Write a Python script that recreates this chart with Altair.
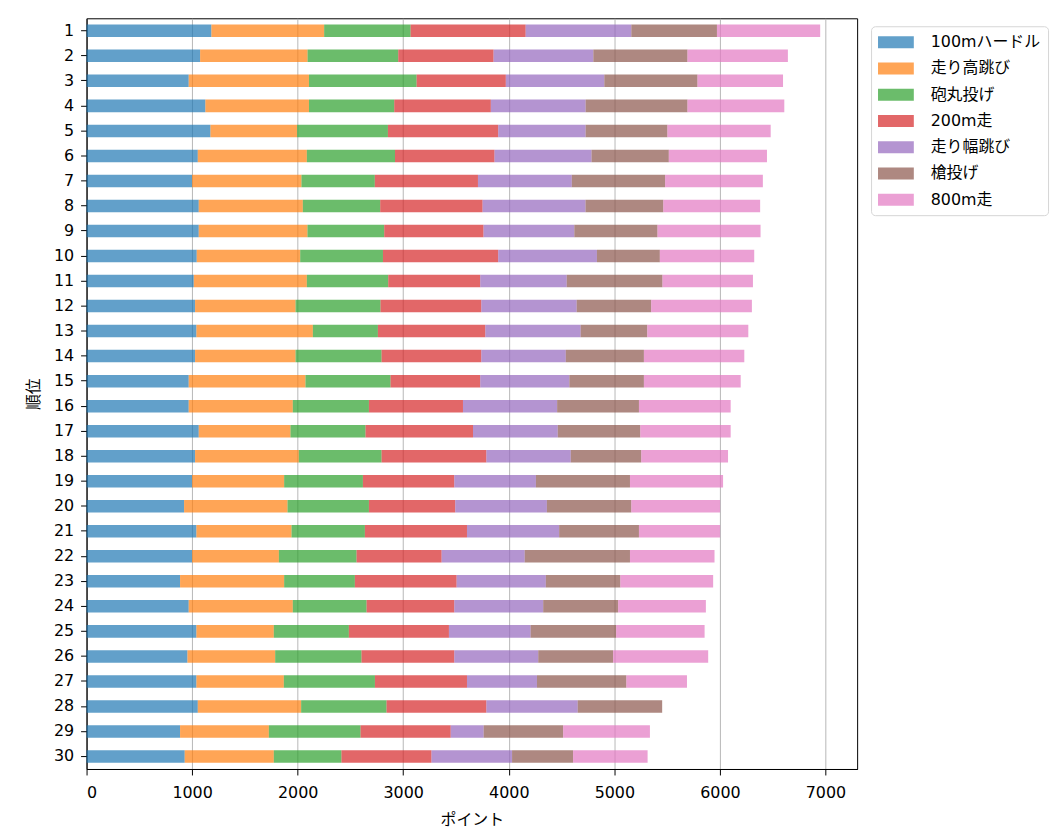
import altair as alt
import pandas as pd

ranks = list(range(1, 31))
events = ["100mハードル", "走り高跳び", "砲丸投げ", "200m走", "走り幅跳び", "槍投げ", "800m走"]
colors = ["#1f77b4", "#ff7f0e", "#2ca02c", "#d62728", "#9467bd", "#8c564b", "#e377c2"]

hurdles = [1183, 1076, 968, 1126, 1174, 1054, 1000, 1063, 1063, 1044,
           1016, 1028, 1041, 1028, 968, 968, 1063, 1028, 1000, 924,
           1041, 1000, 886, 968, 1041, 956, 1041, 1054, 886, 930]
high_jump = [1068, 1018, 1139, 981, 821, 1033, 1036, 986, 1030, 980,
             1071, 952, 1103, 952, 1106, 986, 869, 983, 872, 980,
             901, 822, 986, 986, 733, 831, 828, 979, 841, 844]
shot_put = [819, 859, 1020, 808, 860, 835, 695, 733, 727, 784,
            771, 805, 616, 815, 806, 721, 711, 784, 746, 771,
            695, 736, 670, 699, 711, 818, 863, 809, 869, 641]
run200 = [1090, 903, 845, 915, 1045, 943, 977, 970, 941, 1092,
          872, 955, 1018, 945, 850, 891, 1018, 993, 866, 818,
          967, 806, 964, 831, 948, 879, 872, 946, 854, 853]
long_jump = [1001, 945, 933, 898, 828, 919, 889, 975, 860, 935,
             819, 903, 903, 800, 844, 892, 803, 799, 773, 868,
             873, 787, 845, 842, 774, 795, 663, 865, 312, 763]
javelin = [811, 892, 883, 965, 775, 732, 884, 737, 788, 596,
           907, 706, 631, 740, 706, 775, 782, 668, 891, 800,
           756, 997, 706, 710, 810, 709, 847, 800, 753, 578]
run800 = [978, 951, 810, 917, 978, 930, 926, 917, 976, 894,
          857, 954, 957, 951, 917, 869, 856, 822, 882, 841,
          769, 801, 879, 831, 838, 901, 574, 0, 822, 706]

series = [hurdles, high_jump, shot_put, run200, long_jump, javelin, run800]

rows = []
for ei, (ev, vals) in enumerate(zip(events, series)):
    for r, v in zip(ranks, vals):
        rows.append({"順位": r, "種目": ev, "ポイント": v, "idx": ei})
df = pd.DataFrame(rows)

FONT = "DejaVu Sans, Noto Sans CJK JP, sans-serif"

chart = alt.Chart(df).mark_bar(opacity=0.7).encode(
    y=alt.Y("順位:O", sort="ascending",
            scale=alt.Scale(paddingInner=0.5, paddingOuter=0.25),
            axis=alt.Axis(title="順位", grid=False, labelAngle=0, labelPadding=7,
                          titlePadding=12)),
    x=alt.X("sum(ポイント):Q", stack="zero",
            scale=alt.Scale(domain=[0, 7300], nice=False, zero=True),
            axis=alt.Axis(title="ポイント", values=[0, 1000, 2000, 3000, 4000, 5000, 6000, 7000],
                          format="d", labelPadding=10, titlePadding=11,
                          grid=True, gridColor="#b0b0b0", gridWidth=0.9)),
    color=alt.Color("種目:N", scale=alt.Scale(domain=events, range=colors),
                    legend=alt.Legend(title=None, orient="none", legendX=789, legendY=8,
                                      symbolType="M-1,-0.667H3V0.667H-1Z", symbolSize=324,
                                      symbolOpacity=0.7, symbolStrokeWidth=0,
                                      labelFont=FONT, labelFontSize=16, labelColor="black",
                                      labelOffset=35, rowPadding=9.4,
                                      padding=7, strokeColor="#d6d6d6", cornerRadius=4,
                                      fillColor="white")),
    order=alt.Order("idx:Q", sort="ascending"),
).properties(
    width=775, height=755,
    padding={"left": 79, "top": 8, "right": 200, "bottom": 60},
    autosize=alt.AutoSizeParams(type="none"),
).configure_view(
    stroke="black", strokeWidth=1
).configure_axis(
    labelFont=FONT, labelFontSize=16, labelColor="black",
    titleFont=FONT, titleFontSize=16, titleFontWeight="normal", titleColor="black",
    domainColor="black", tickColor="black", tickSize=6,
)

chart.save("out.html", embed_options={"renderer": "svg", "actions": False})
